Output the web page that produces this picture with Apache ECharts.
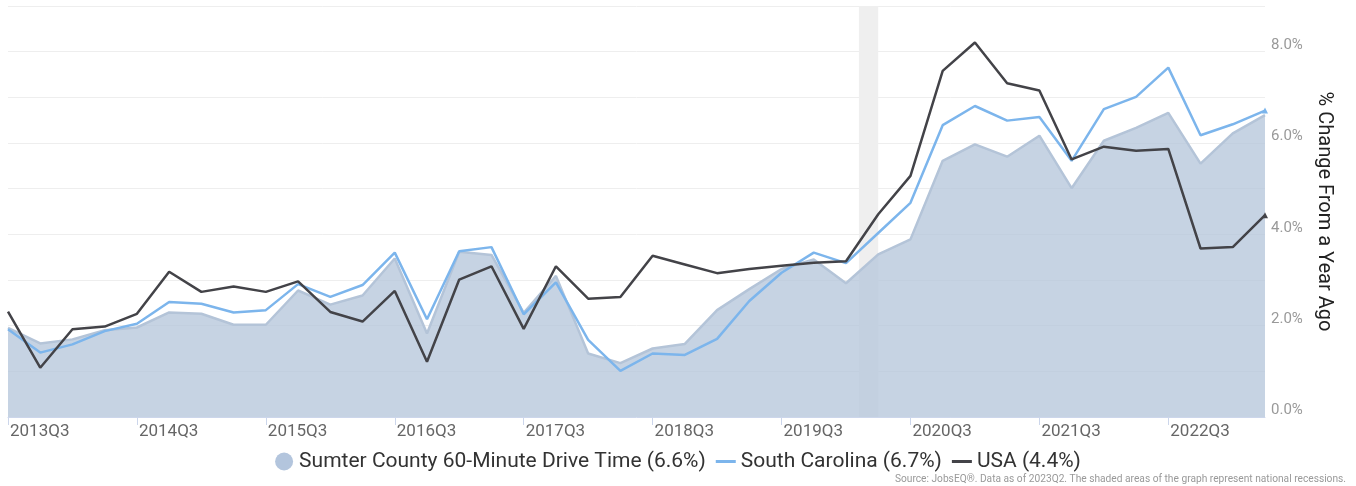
<!DOCTYPE html>
<html>
  <head>
    <meta charset="utf-8" />
    <title>Sumter County 60-Minute Drive Time</title>
    <script src="https://cdn.jsdelivr.net/npm/echarts@6/dist/echarts.min.js"></script>
    <style>
      body { margin: 0; background: #fff; }
      #chart { width: 1356px; height: 486px; }
    </style>
  </head>
<body>
  <div id="chart"></div>

  <script type="text/javascript">
var quarters = ['2013Q3','2013Q4','2014Q1','2014Q2','2014Q3','2014Q4','2015Q1','2015Q2',
  '2015Q3','2015Q4','2016Q1','2016Q2','2016Q3','2016Q4','2017Q1','2017Q2',
  '2017Q3','2017Q4','2018Q1','2018Q2','2018Q3','2018Q4','2019Q1','2019Q2',
  '2019Q3','2019Q4','2020Q1','2020Q2','2020Q3','2020Q4','2021Q1','2021Q2',
  '2021Q3','2021Q4','2022Q1','2022Q2','2022Q3','2022Q4','2023Q1','2023Q2'];

var sumter = [1.95,1.61,1.70,1.90,1.96,2.29,2.26,2.02,2.02,2.77,2.46,2.66,3.47,1.83,3.62,3.55,
  2.28,3.09,1.39,1.18,1.50,1.60,2.34,2.80,3.24,3.45,2.93,3.56,3.89,5.61,5.97,5.70,
  6.16,5.01,6.05,6.33,6.66,5.55,6.21,6.61];
var southCarolina = [1.92,1.41,1.59,1.88,2.04,2.52,2.48,2.29,2.34,2.91,2.63,2.89,3.60,2.14,3.63,3.72,
  2.25,2.95,1.69,1.01,1.39,1.36,1.71,2.54,3.16,3.60,3.37,4.03,4.69,6.39,6.81,6.49,
  6.57,5.61,6.74,7.01,7.65,6.17,6.41,6.71];
var usa = [2.31,1.08,1.92,1.98,2.26,3.18,2.74,2.86,2.74,2.97,2.30,2.09,2.76,1.21,3.01,3.30,
  1.93,3.30,2.59,2.63,3.53,3.34,3.15,3.24,3.31,3.38,3.41,4.44,5.28,7.58,8.20,7.31,
  7.15,5.64,5.92,5.83,5.87,3.69,3.72,4.42];

// recession span, in quarter index units (Feb 2020 - Apr 2020)
var recessions = [[26.4, 27]];

var names = ['Sumter County 60-Minute Drive Time (6.6%)', 'South Carolina (6.7%)', 'USA (4.4%)'];

function pairs(arr, endMark) {
  return arr.map(function (v, i) {
    if (endMark && i === arr.length - 1) {
      return { value: [i, v], symbol: 'triangle', symbolSize: 6 };
    }
    return [i, v];
  });
}

var chart = echarts.init(document.getElementById('chart'));
var option = {
  animation: false,
  textStyle: { fontFamily: 'Roboto' },
  grid: { left: 8, right: 91, top: 6, bottom: 69 },
  legend: {
    top: 446,
    left: 'center',
    itemWidth: 20,
    itemHeight: 18,
    itemGap: 10,
    textStyle: { fontFamily: 'Roboto', fontSize: 21, color: '#333' },
    data: [
      { name: names[0], icon: 'circle', itemStyle: { color: '#b3c5dd' } },
      { name: names[1], icon: 'path://M0,0H20V3H0Z' },
      { name: names[2], icon: 'path://M0,0H20V3H0Z' }
    ]
  },
  xAxis: {
    type: 'value',
    min: 0,
    max: quarters.length - 1,
    interval: 4,
    axisLine: { show: true, lineStyle: { color: '#ccd6eb' } },
    axisTick: { show: true, length: 8, lineStyle: { color: '#ccd6eb' } },
    splitLine: { show: false },
    axisLabel: {
      showMaxLabel: false,
      align: 'left',
      margin: 6,
      padding: [0, 0, 0, 2],
      fontSize: 17,
      color: '#666',
      formatter: function (v) { return v % 4 === 0 ? quarters[v] : ''; }
    }
  },
  yAxis: {
    type: 'value',
    position: 'right',
    min: 0,
    max: 9,
    interval: 1,
    name: '% Change From a Year Ago',
    nameLocation: 'middle',
    nameRotate: -90,
    nameGap: 47,
    nameTextStyle: { fontSize: 20, color: '#222' },
    axisLine: { show: false },
    axisTick: { show: false },
    splitLine: { lineStyle: { color: '#eeeeee' } },
    axisLabel: {
      margin: 6,
      fontSize: 15,
      color: '#999',
      verticalAlign: 'bottom',
      padding: [0, 0, -1, 0],
      formatter: function (v) { return v % 2 === 0 ? v.toFixed(1) + '%' : ''; }
    }
  },
  series: [
    {
      name: names[0],
      type: 'line',
      symbol: 'none',
      data: pairs(sumter, false),
      lineStyle: { color: '#b4c4d8', width: 2.5 },
      itemStyle: { color: '#b3c5dd' },
      areaStyle: { color: 'rgba(182,199,219,0.78)', opacity: 1 },
      markArea: {
        silent: true,
        itemStyle: { color: '#efefef' },
        data: recessions.map(function (r) { return [{ xAxis: r[0] }, { xAxis: r[1] }]; })
      },
      z: 1
    },
    {
      name: names[1],
      type: 'line',
      symbol: 'none',
      showSymbol: true,
      data: pairs(southCarolina, true),
      lineStyle: { color: '#7cb5ec', width: 2.5 },
      itemStyle: { color: '#7cb5ec' },
      z: 2
    },
    {
      name: names[2],
      type: 'line',
      symbol: 'none',
      showSymbol: true,
      data: pairs(usa, true),
      lineStyle: { color: '#434348', width: 2.5 },
      itemStyle: { color: '#434348' },
      z: 3
    }
  ],
  graphic: [
    {
      type: 'text',
      right: 10,
      top: 474,
      style: {
        text: 'Source: JobsEQ®. Data as of 2023Q2. The shaded areas of the graph represent national recessions.',
        fontFamily: 'Roboto',
        fontSize: 10.2,
        fill: '#999'
      }
    }
  ]
};

option && chart.setOption(option);
</script>
</body>
</html>
